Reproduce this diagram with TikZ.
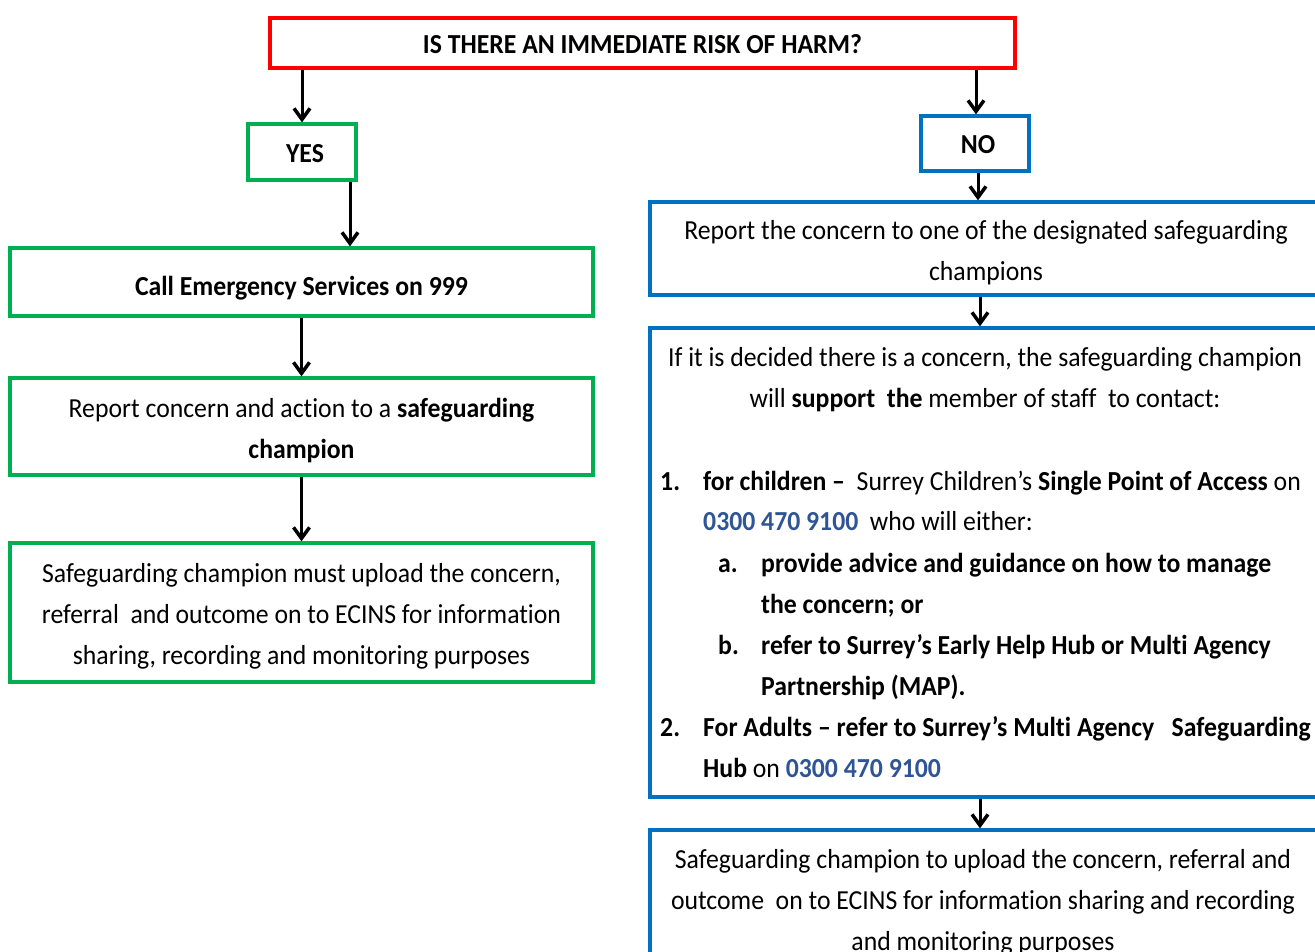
\documentclass[tikz,border=0pt]{standalone}
\usepackage{fontspec}
\setmainfont{Carlito}[FakeStretch=0.936,Ligatures=NoCommon]
\usetikzlibrary{arrows.meta}
\definecolor{cred}{RGB}{255,0,0}
\definecolor{cgreen}{RGB}{0,176,80}
\definecolor{cblue}{RGB}{0,112,192}
\definecolor{ctel}{RGB}{47,85,151}
\newcommand{\tel}[1]{\textcolor{ctel}{\textbf{#1}}}
\begin{document}
\begin{tikzpicture}[x=1pt,y=-1pt,
  every node/.style={font=\fontsize{27.5}{41}\selectfont},
  boxbase/.style={draw, line width=3.3pt, inner sep=0pt},
  redbox/.style={boxbase, draw=cred},
  greenbox/.style={boxbase, draw=cgreen},
  bluebox/.style={boxbase, draw=cblue},
  boxtext/.style={inner sep=0pt, align=center},
  lineleft/.style={anchor=base west, inner sep=0pt},
  linemid/.style={anchor=base, inner sep=0pt},
  arr/.style={line width=3pt, -{Straight Barb[length=11pt,width=16pt,line width=3.5pt]}}
]
\useasboundingbox (0,0) rectangle (1315,952);
\clip (0,0) rectangle (1315,952);
\fill[white] (0,0) rectangle (1315,952);

% boxes
\node[redbox, minimum width=745pt, minimum height=50pt] (risk) at (642.5,43) {};
\node[greenbox, minimum width=108pt, minimum height=56pt] (yes) at (302,152) {};
\node[bluebox, minimum width=108pt, minimum height=55pt] (no) at (975,143.5) {};
\node[greenbox, minimum width=583pt, minimum height=68pt] (call) at (301.5,282) {};
\node[greenbox, minimum width=583pt, minimum height=97pt] (report) at (301.5,426.5) {};
\node[greenbox, minimum width=583pt, minimum height=139pt] (upload) at (301.5,612.5) {};
\node[bluebox, minimum width=672pt, minimum height=93pt] (r1) at (986,248.5) {};
\node[bluebox, minimum width=672pt, minimum height=469pt] (r2) at (986,562.5) {};
\node[bluebox, minimum width=672pt, minimum height=140pt] (r3) at (986,900) {};

% box texts
\node[boxtext] (riskt) at ([yshift=-1pt]risk.center) {\textbf{IS THERE AN IMMEDIATE RISK OF HARM?}};
\node[boxtext] (yest) at ([xshift=3pt,yshift=-2pt]yes.center) {\textbf{YES}};
\node[boxtext] (not) at ([xshift=3pt,yshift=-1pt]no.center) {\textbf{NO}};
\node[boxtext] (callt) at ([yshift=-6pt]call.center) {\textbf{Call Emergency Services on 999}};
\node[boxtext] (reportt) at ([yshift=-4pt]report.center) {Report concern and action to a \textbf{safeguarding}\\\textbf{champion}};
\node[boxtext] (uploadt) at ([yshift=-4pt]upload.center) {Safeguarding champion must upload the concern,\\referral\ \ and outcome on to ECINS for information\\sharing, recording and monitoring purposes};
\node[boxtext] (r1t) at ([yshift=-4pt]r1.center) {Report the concern to one of the designated safeguarding\\champions};
\node[boxtext] (r3t) at ([xshift=-3pt,yshift=-2pt]r3.center) {Safeguarding champion to upload the concern, referral and\\outcome\ \ on to ECINS for information sharing and recording\\and monitoring purposes};

% text of the second blue box
\node[linemid] (t1) at (985,366) {If it is decided there is a concern, the safeguarding champion};
\node[linemid] (t2) at (985,407) {will \textbf{support\ \ the} member of staff\ \ to contact:};
\node[lineleft] (n1) at (660,490) {\textbf{1.}};
\node[lineleft] (t3) at (703,490) {\textbf{for children –}\ \ Surrey Children’s \textbf{Single Point of Access} on};
\node[lineleft] (t4) at (703,530) {\tel{0300 470 9100}\ \ who will either:};
\node[lineleft] (na) at (718,572) {\textbf{a.}};
\node[lineleft] (t5) at (761,572) {\textbf{provide advice and guidance on how to manage}};
\node[lineleft] (t6) at (761,613) {\textbf{the concern; or}};
\node[lineleft] (nb) at (718,654) {\textbf{b.}};
\node[lineleft] (t7) at (761,654) {\textbf{refer to Surrey’s Early Help Hub or Multi Agency}};
\node[lineleft] (t8) at (761,695) {\textbf{Partnership (MAP).}};
\node[lineleft] (n2) at (660,736) {\textbf{2.}};
\node[lineleft] (t9) at (703,736) {\textbf{For Adults – refer to Surrey’s Multi Agency\ \ \ Safeguarding}};
\node[lineleft] (t10) at (703,777) {\textbf{Hub} on \tel{0300 470 9100}};

% connectors
\draw[arr] (yes.north |- risk.south) -- (yes.north);
\draw[arr] ([xshift=1pt]no.north |- risk.south) -- ([xshift=1pt]no.north);
\draw[arr] ([xshift=48pt]yes.south) -- ([xshift=48pt]yes.south |- call.north);
\draw[arr] (call.south) -- (report.north);
\draw[arr] (report.south) -- (upload.north);
\draw[arr] ([xshift=3pt]no.south) -- ([xshift=3pt]no.south |- r1.north);
\draw[arr] ([xshift=-6pt]r1.south) -- ([xshift=-6pt]r2.north);
\draw[arr] ([xshift=-6pt]r2.south) -- ([xshift=-6pt]r3.north);
\end{tikzpicture}
\end{document}
